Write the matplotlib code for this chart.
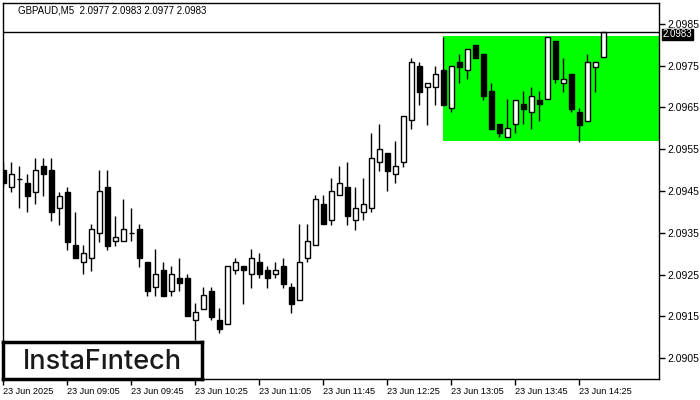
import matplotlib
matplotlib.use("Agg")
import matplotlib.pyplot as plt
from matplotlib.patches import Rectangle
import numpy as np

symbol_title = "GBPAUD,M5  2.0977 2.0983 2.0977 2.0983"
opens = [2.09500, 2.09460, 2.09479, 2.09469, 2.09448, 2.09510, 2.09500, 2.09409, 2.09448, 2.09321,
         2.09280, 2.09289, 2.09349, 2.09460, 2.09330, 2.09330, 2.09349, 2.09359, 2.09280, 2.09220,
         2.09261, 2.09210, 2.09242, 2.09242, 2.09141, 2.09167, 2.09210, 2.09141, 2.09131, 2.09261,
         2.09270, 2.09251, 2.09280, 2.09261, 2.09251, 2.09270, 2.09220, 2.09189, 2.09289, 2.09321,
         2.09419, 2.09381, 2.09440, 2.09460, 2.09381, 2.09400, 2.09409, 2.09519, 2.09541, 2.09491,
         2.09519, 2.09620, 2.09749, 2.09699, 2.09699, 2.09740, 2.09649, 2.09759, 2.09740, 2.09800,
         2.09778, 2.09690, 2.09610, 2.09579, 2.09610, 2.09658, 2.09639, 2.09668, 2.09670, 2.09809,
         2.09709, 2.09730, 2.09639, 2.09618, 2.09747, 2.09770]
highs = [2.09519, 2.09519, 2.09510, 2.09491, 2.09529, 2.09529, 2.09529, 2.09448, 2.09460, 2.09400,
         2.09321, 2.09371, 2.09500, 2.09500, 2.09390, 2.09431, 2.09409, 2.09371, 2.09280, 2.09311,
         2.09280, 2.09270, 2.09289, 2.09251, 2.09182, 2.09220, 2.09220, 2.09170, 2.09270, 2.09289,
         2.09270, 2.09311, 2.09301, 2.09270, 2.09280, 2.09289, 2.09230, 2.09371, 2.09371, 2.09440,
         2.09440, 2.09481, 2.09510, 2.09519, 2.09460, 2.09481, 2.09589, 2.09610, 2.09541, 2.09570,
         2.09630, 2.09769, 2.09759, 2.09709, 2.09749, 2.09819, 2.09749, 2.09778, 2.09790, 2.09800,
         2.09778, 2.09709, 2.09610, 2.09670, 2.09668, 2.09690, 2.09699, 2.09690, 2.09819, 2.09809,
         2.09769, 2.09730, 2.09649, 2.09778, 2.09759, 2.09830]
lows = [2.09460, 2.09448, 2.09409, 2.09400, 2.09419, 2.09438, 2.09378, 2.09369, 2.09309, 2.09289,
        2.09251, 2.09258, 2.09328, 2.09309, 2.09318, 2.09330, 2.09330, 2.09268, 2.09198, 2.09198,
        2.09198, 2.09198, 2.09210, 2.09151, 2.09093, 2.09167, 2.09141, 2.09110, 2.09131, 2.09251,
        2.09179, 2.09218, 2.09242, 2.09218, 2.09242, 2.09218, 2.09158, 2.09189, 2.09280, 2.09321,
        2.09371, 2.09369, 2.09440, 2.09369, 2.09357, 2.09381, 2.09400, 2.09498, 2.09450, 2.09469,
        2.09507, 2.09598, 2.09656, 2.09608, 2.09656, 2.09656, 2.09639, 2.09709, 2.09718, 2.09769,
        2.09668, 2.09598, 2.09579, 2.09579, 2.09589, 2.09610, 2.09598, 2.09618, 2.09670, 2.09709,
        2.09687, 2.09639, 2.09567, 2.09618, 2.09687, 2.09770]
closes = [2.09469, 2.09491, 2.09479, 2.09438, 2.09500, 2.09491, 2.09400, 2.09438, 2.09328, 2.09289,
          2.09301, 2.09359, 2.09450, 2.09318, 2.09340, 2.09359, 2.09349, 2.09289, 2.09210, 2.09251,
          2.09198, 2.09251, 2.09230, 2.09151, 2.09160, 2.09201, 2.09148, 2.09119, 2.09270, 2.09280,
          2.09261, 2.09289, 2.09251, 2.09242, 2.09261, 2.09227, 2.09179, 2.09280, 2.09330, 2.09431,
          2.09371, 2.09450, 2.09469, 2.09390, 2.09409, 2.09419, 2.09529, 2.09551, 2.09498, 2.09510,
          2.09630, 2.09759, 2.09687, 2.09709, 2.09730, 2.09656, 2.09749, 2.09747, 2.09790, 2.09769,
          2.09678, 2.09598, 2.09589, 2.09601, 2.09668, 2.09646, 2.09678, 2.09658, 2.09819, 2.09718,
          2.09718, 2.09646, 2.09608, 2.09759, 2.09759, 2.09830]

x_tick_labels = ["23 Jun 2025", "23 Jun 09:05", "23 Jun 09:45", "23 Jun 10:25", "23 Jun 11:05",
                 "23 Jun 11:45", "23 Jun 12:25", "23 Jun 13:05", "23 Jun 13:45", "23 Jun 14:25"]
y_ticks = [2.0905, 2.0915, 2.0925, 2.0935, 2.0945, 2.0955, 2.0965, 2.0975, 2.0985]
current_price = 2.0983
zone_low, zone_high = 2.0957, 2.0982
zone_start_bar = 55

plt.rcParams['font.family'] = ['Liberation Sans Narrow', 'DejaVu Sans Condensed', 'Liberation Sans', 'DejaVu Sans']

fig = plt.figure(figsize=(7, 4), dpi=100)
ax = fig.add_axes([3/700, 21/400, 656/700, 376/400])

n = len(opens)
x = np.arange(n)
xmax = 81.94
ax.set_xlim(-0.06, xmax)
ax.set_ylim(2.0900, 2.0990)

ax.add_patch(Rectangle((zone_start_bar, zone_low), xmax - zone_start_bar + 1, zone_high - zone_low,
                       facecolor='#00ff00', edgecolor='none', zorder=1))

o = np.array(opens); c = np.array(closes); h = np.array(highs); l = np.array(lows)
bull = c >= o
ax.vlines(x, l, h, color='black', lw=1, zorder=2)
bottoms = np.minimum(o, c)
heights = np.abs(c - o)
ax.bar(x, heights, bottom=bottoms, width=0.6,
       color=np.where(bull, 'white', 'black'), edgecolor='black', linewidth=1, zorder=3)

ax.axhline(current_price, color='black', lw=1, zorder=4)

ax.text(15/656, 0.979, symbol_title, transform=ax.transAxes, fontsize=7, va='center', ha='left')

ax.yaxis.tick_right()
ax.set_yticks(y_ticks)
ax.set_yticklabels([f"{v:.4f}" for v in y_ticks])
ax.set_xticks(np.arange(0, 8 * len(x_tick_labels), 8))
ax.set_xticklabels(x_tick_labels, ha='left')
ax.tick_params(axis='y', direction='out', length=4, width=1, labelsize=7.5, colors='black', pad=2)
ax.tick_params(axis='x', direction='out', length=4, width=1, labelsize=6.6, colors='black', pad=2)
for s in ax.spines.values():
    s.set_color('black'); s.set_linewidth(1)

ax.annotate(f"{current_price:.4f}", xy=(1.0, current_price), xycoords=('axes fraction', 'data'),
            xytext=(2.5, -1.3), textcoords='offset points', ha='left', va='center', fontsize=7,
            color='white', bbox=dict(boxstyle='square,pad=0.05', facecolor='black', edgecolor='black'),
            annotation_clip=False, zorder=10)

logo_ax = fig.add_axes([3/700, 21/400, 199/700, 37/400])
logo_ax.set_xticks([]); logo_ax.set_yticks([])
for s in logo_ax.spines.values():
    s.set_color('black'); s.set_linewidth(2.5)
logo_ax.set_facecolor('white')
logo_ax.text(0.5, 0.47, "InstaFıntech", ha='center', va='center', fontsize=19.5, fontweight='medium',
             family=['Inter', 'DejaVu Sans'], color='#1a1a1a')

fig.savefig("out.png", dpi=100)
